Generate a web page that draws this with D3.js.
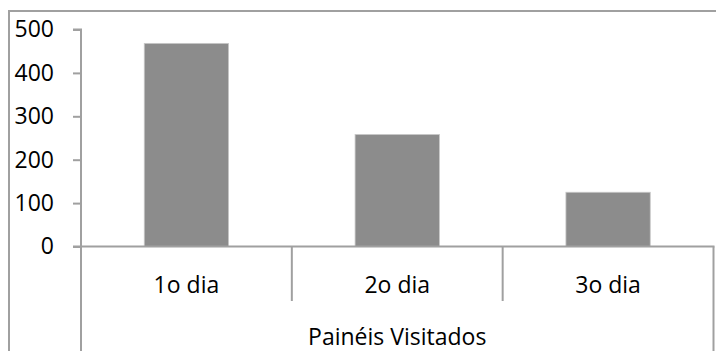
<!DOCTYPE html>
<html>
<head>
<meta charset="utf-8">
<script src="https://cdn.jsdelivr.net/npm/d3@7"></script>
<style>
  html, body { margin: 0; padding: 0; background: #fff; }
  svg { display: block; }
  text { font-family: "Open Sans", "Noto Sans", sans-serif; fill: #000; }
</style>
</head>
<body>
<svg id="chart" width="716" height="351"></svg>
<script>
// Painéis visitados por dia
const categories = ["1o dia", "2o dia", "3o dia"];
const visits = [468, 258, 125];
const yTicks = [0, 100, 200, 300, 400, 500];
const groupLabel = "Painéis Visitados";

const W = 716, H = 351;
const plot = { left: 81, right: 713.5, top: 29.5, bottom: 246.5 };
const lineColor = "#a0a0a0";
const barColor = "#8c8c8c";
const fontSize = "23px";

const svg = d3.select("#chart");

// outer chart frame
svg.append("rect")
  .attr("x", 9).attr("y", 11)
  .attr("width", 716).attr("height", 400)
  .attr("fill", "none")
  .attr("stroke", lineColor)
  .attr("stroke-width", 2);

const x = d3.scaleBand()
  .domain(categories)
  .range([plot.left, plot.right])
  .paddingInner(0.6)
  .paddingOuter(0.3);

const xGroup = d3.scaleBand()
  .domain(categories)
  .range([plot.left, plot.right])
  .padding(0);

const y = d3.scaleLinear()
  .domain([0, 500])
  .range([plot.bottom, plot.top]);

// bars
svg.append("g")
  .selectAll("rect")
  .data(categories.map((c, i) => ({ c, v: visits[i] })))
  .join("rect")
  .attr("x", d => x(d.c))
  .attr("y", d => y(d.v))
  .attr("width", x.bandwidth())
  .attr("height", d => y(0) - y(d.v))
  .attr("fill", barColor)
  .attr("stroke", "#c8c8c8")
  .attr("stroke-width", 0.8);

// y axis
const yAxis = svg.append("g")
  .attr("transform", `translate(${plot.left},0)`)
  .call(d3.axisLeft(y).tickValues(yTicks).tickSize(8).tickPadding(19).tickFormat(d3.format("d")));
yAxis.select(".domain").attr("stroke", lineColor).attr("stroke-width", 2)
  .attr("d", `M-8,${plot.top}H0V${plot.bottom}`);
yAxis.selectAll(".tick line").attr("stroke", lineColor).attr("stroke-width", 2);
yAxis.selectAll(".tick text")
  .style("font-family", "'Open Sans', sans-serif")
  .style("font-size", fontSize)
  .attr("fill", "#000");

// x axis baseline and category dividers (two-level category axis)
const axisG = svg.append("g");
axisG.append("line")
  .attr("x1", plot.left - 8).attr("x2", plot.right + 1)
  .attr("y1", plot.bottom).attr("y2", plot.bottom)
  .attr("stroke", lineColor).attr("stroke-width", 2);

// outer edges of the group span reach the bottom
axisG.selectAll("line.edge")
  .data([plot.left, plot.right])
  .join("line")
  .attr("class", "edge")
  .attr("x1", d => d).attr("x2", d => d)
  .attr("y1", plot.bottom).attr("y2", H + 2)
  .attr("stroke", lineColor).attr("stroke-width", 2);

// inner dividers between categories
axisG.selectAll("line.div")
  .data(categories.slice(1))
  .join("line")
  .attr("class", "div")
  .attr("x1", d => xGroup(d)).attr("x2", d => xGroup(d))
  .attr("y1", plot.bottom).attr("y2", 301)
  .attr("stroke", lineColor).attr("stroke-width", 2);

axisG.selectAll("text.cat")
  .data(categories)
  .join("text")
  .attr("class", "cat")
  .attr("x", d => xGroup(d) + xGroup.bandwidth() / 2)
  .attr("y", 293)
  .attr("text-anchor", "middle")
  .style("font-size", fontSize)
  .text(d => d);

axisG.append("text")
  .attr("x", (plot.left + plot.right) / 2)
  .attr("y", 344.5)
  .attr("text-anchor", "middle")
  .style("font-size", fontSize)
  .text(groupLabel);
</script>
</body>
</html>
